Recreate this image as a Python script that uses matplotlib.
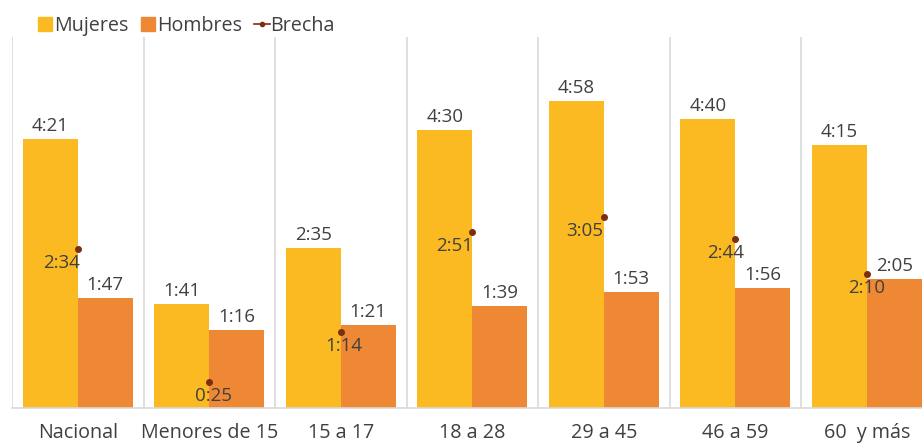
import matplotlib
matplotlib.use("Agg")
import matplotlib.pyplot as plt
from matplotlib.lines import Line2D
import numpy as np

categories = ["Nacional", "Menores de 15", "15 a 17", "18 a 28", "29 a 45", "46 a 59", "60  y más"]
mujeres_lbl = ["4:21", "1:41", "2:35", "4:30", "4:58", "4:40", "4:15"]
hombres_lbl = ["1:47", "1:16", "1:21", "1:39", "1:53", "1:56", "2:05"]
brecha_lbl = ["2:34", "0:25", "1:14", "2:51", "3:05", "2:44", "2:10"]


def to_min(s):
    h, m = s.split(":")
    return int(h) * 60 + int(m)


mujeres = [to_min(s) for s in mujeres_lbl]
hombres = [to_min(s) for s in hombres_lbl]
brecha = [to_min(s) for s in brecha_lbl]

# label horizontal nudges (pixels) for the Brecha labels
brecha_dx = [-16, 4, 3, -18, -19, -10, 0]

C_MUJ = "#FBBA22"
C_HOM = "#EE8834"
C_BRE = "#7A2E12"
C_TXT = "#404040"
C_GRID = "#D9D9D9"
FONT = "Open Sans"
FS = 13.5
FS_CAT = 14.2

plt.rcParams["font.family"] = [FONT, "DejaVu Sans"]

W, H = 922, 446
fig = plt.figure(figsize=(W / 100, H / 100), dpi=100)
cat_w = 131.5
left_px = 12.0
bottom_px = 38.0
top_px = 37.0
ax = fig.add_axes([left_px / W, bottom_px / H, (W - left_px) / W, (H - top_px - bottom_px) / H])
ax.set_xlim(-0.5, -0.5 + (W - left_px) / cat_w)
ax.set_ylim(0, 360)

x = np.arange(len(categories))
bw = 0.418
ax.bar(x - bw / 2, mujeres, bw, color=C_MUJ, zorder=2)
ax.bar(x + bw / 2, hombres, bw, color=C_HOM, zorder=2)
ax.plot(x, brecha, linestyle="none", marker="o", markersize=4, color=C_BRE, zorder=4)

for b in np.arange(-0.5, len(categories) + 0.5, 1.0):
    ax.axvline(b, color=C_GRID, linewidth=1.2, zorder=1)

for xi, v, s in zip(x, mujeres, mujeres_lbl):
    ax.annotate(s, (xi - bw / 2, v), xytext=(0, 8), textcoords="offset pixels",
                ha="center", va="baseline", fontsize=FS, color=C_TXT, zorder=5)
for xi, v, s in zip(x, hombres, hombres_lbl):
    ax.annotate(s, (xi + bw / 2, v), xytext=(0, 8), textcoords="offset pixels",
                ha="center", va="baseline", fontsize=FS, color=C_TXT, zorder=5)
for xi, v, s, dx in zip(x, brecha, brecha_lbl, brecha_dx):
    ax.annotate(s, (xi, v), xytext=(dx, -19), textcoords="offset pixels",
                ha="center", va="baseline", fontsize=FS, color=C_TXT, zorder=5)

for sp in ["top", "right", "left"]:
    ax.spines[sp].set_visible(False)
ax.spines["bottom"].set_color(C_GRID)
ax.spines["bottom"].set_linewidth(1.2)
ax.set_yticks([])
ax.set_xticks(x)
ax.set_xticklabels(categories, fontsize=FS_CAT, color=C_TXT)
ax.tick_params(axis="x", length=0, pad=11)

handles = [
    Line2D([], [], marker="s", linestyle="none", markersize=10, color=C_MUJ),
    Line2D([], [], marker="s", linestyle="none", markersize=10, color=C_HOM),
    Line2D([], [], marker="o", linestyle="-", linewidth=1.2, markersize=3, color=C_BRE),
]
leg = fig.legend(handles, ["Mujeres", "Hombres", "Brecha"], loc="center left",
                 bbox_to_anchor=(37 / W, 1 - 26 / H), ncol=3, frameon=False,
                 fontsize=FS_CAT, handlelength=0.85, handletextpad=0.0, columnspacing=0.6,
                 borderaxespad=0, borderpad=0)
for t in leg.get_texts():
    t.set_color(C_TXT)

fig.savefig("out.png", dpi=100)
